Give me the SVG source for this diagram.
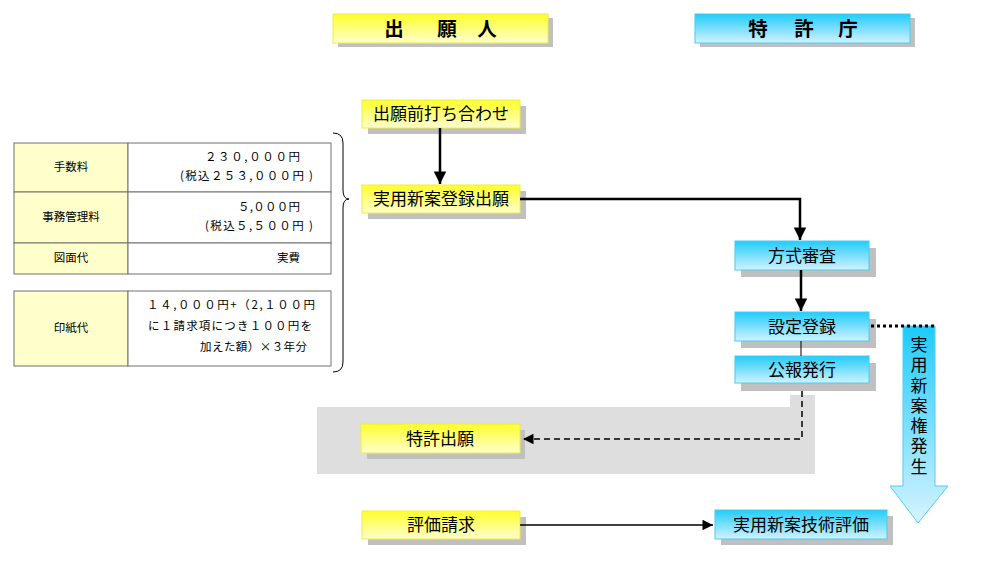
<svg xmlns="http://www.w3.org/2000/svg" width="1000" height="565" viewBox="0 0 1000 565">
<defs>
<linearGradient id="gy" x1="0" y1="0" x2="0" y2="1"><stop offset="0" stop-color="#ffff2a"/><stop offset="1" stop-color="#ffffd0"/></linearGradient>
<linearGradient id="gb" x1="0" y1="0" x2="0" y2="1"><stop offset="0" stop-color="#22ccfa"/><stop offset="1" stop-color="#d2f2ff"/></linearGradient>
<linearGradient id="ga" x1="0" y1="0" x2="0" y2="1"><stop offset="0" stop-color="#1ecbfa"/><stop offset="1" stop-color="#d6f3ff"/></linearGradient>
<marker id="ah" viewBox="0 0 10 10" refX="10" refY="5" markerWidth="5.5" markerHeight="5" markerUnits="strokeWidth" orient="auto"><path d="M0,0 L10,5 L0,10 Z" fill="#000"/></marker>
<marker id="ah2" viewBox="0 0 10 10" refX="10" refY="5" markerWidth="9" markerHeight="7" markerUnits="strokeWidth" orient="auto"><path d="M0,0 L10,5 L0,10 Z" fill="#000"/></marker>
</defs>
<style>
text{font-family:"Noto Sans CJK JP","Noto Sans CJK SC",sans-serif;fill:#000}
.sh{fill:#c0c0c0}
.y{fill:url(#gy);stroke:#eeee44;stroke-width:1}
.b{fill:url(#gb);stroke:#44ccf5;stroke-width:1}
.t{font-size:17px;text-anchor:middle}
.h{font-size:19.5px;font-weight:bold;text-anchor:middle}
.c{font-size:11.5px}
.tl{fill:#ffffcc;stroke:#707070;stroke-width:1}
.tr{fill:#fff;stroke:#707070;stroke-width:1}
.ln{stroke:#000;fill:none}
</style>
<rect width="1000" height="565" fill="#fff"/>
<g id="band"><path d="M790,395 H815 V474 H317 V407 H790 Z" fill="#dedede"/></g>
<g id="header-applicant"><rect class="sh" x="338" y="18" width="215" height="29"/><rect class="y" x="333" y="14" width="215" height="29"/><text class="h" y="36"><tspan x="394">出</tspan><tspan x="447">願</tspan><tspan x="487">人</tspan></text></g>
<g id="header-office"><rect class="sh" x="700" y="18" width="215" height="29"/><rect class="b" x="695" y="14" width="215" height="29"/><text class="h" y="36"><tspan x="758">特</tspan><tspan x="804">許</tspan><tspan x="848">庁</tspan></text></g>
<g id="table1">
<rect class="tl" x="14" y="143" width="114" height="49"/><rect class="tr" x="128" y="143" width="203" height="49"/>
<rect class="tl" x="14" y="192" width="114" height="51"/><rect class="tr" x="128" y="192" width="203" height="51"/>
<rect class="tl" x="14" y="243" width="114" height="31"/><rect class="tr" x="128" y="243" width="203" height="31"/>
<text class="c" x="71" y="171" text-anchor="middle">手数料</text>
<text class="c" x="205" y="161" textLength="95" lengthAdjust="spacing">２３０,０００円</text>
<text class="c" x="180" y="180" textLength="133" lengthAdjust="spacing">(税込２５３,０００円 )</text>
<text class="c" x="71" y="221" text-anchor="middle">事務管理料</text>
<text class="c" x="238" y="211" textLength="62" lengthAdjust="spacing">５,０００円</text>
<text class="c" x="205" y="230" textLength="108" lengthAdjust="spacing">(税込５,５００円 )</text>
<text class="c" x="71" y="262" text-anchor="middle">図面代</text>
<text class="c" x="300" y="262" text-anchor="end">実費</text>
</g>
<g id="table2">
<rect class="tl" x="14" y="291" width="114" height="75"/><rect class="tr" x="128" y="291" width="203" height="75"/>
<text class="c" x="71" y="332" text-anchor="middle">印紙代</text>
<text class="c" x="147" y="309" textLength="168" lengthAdjust="spacing">１４,０００円+（2,１００円</text>
<text class="c" x="148" y="330" textLength="164" lengthAdjust="spacing">に１請求項につき１００円を</text>
<text class="c" x="200" y="351" textLength="107" lengthAdjust="spacing">加えた額）×３年分</text>
</g>
<g id="brace"><path class="ln" stroke-width="1" d="M333,133 Q343,133 343,143 V190 Q343,199 349,199 Q343,199 343,208 V362 Q343,372 333,372"/></g>
<g id="n-pre"><rect class="sh" x="368" y="106" width="158" height="28"/><rect class="y" x="362" y="100" width="158" height="28"/><text class="t" x="441" y="120">出願前打ち合わせ</text></g>
<g id="n-apply"><rect class="sh" x="368" y="191" width="158" height="28"/><rect class="y" x="362" y="185" width="158" height="28"/><text class="t" x="441" y="205">実用新案登録出願</text></g>
<g id="n-formal"><rect class="sh" x="741" y="248" width="135" height="29"/><rect class="b" x="735" y="241" width="134" height="29"/><text class="t" x="802" y="262">方式審査</text></g>
<g id="n-reg"><rect class="sh" x="741" y="319" width="135" height="29"/><rect class="b" x="735" y="312" width="134" height="29"/><text class="t" x="802" y="333">設定登録</text></g>
<g id="n-pub"><rect class="sh" x="741" y="363" width="135" height="28"/><rect class="b" x="735" y="356" width="134" height="27"/><text class="t" x="802" y="376">公報発行</text></g>
<g id="n-patent"><rect class="sh" x="367" y="430" width="158" height="29"/><rect class="y" x="361" y="424" width="159" height="29"/><text class="t" x="440" y="445">特許出願</text></g>
<g id="n-req"><rect class="sh" x="368" y="517" width="158" height="28"/><rect class="y" x="362" y="511" width="158" height="28"/><text class="t" x="441" y="531">評価請求</text></g>
<g id="n-eval"><rect class="sh" x="721" y="516" width="172" height="29"/><rect class="b" x="715" y="510" width="172" height="29"/><text class="t" x="801" y="531">実用新案技術評価</text></g>
<g id="n-right"><path d="M903,326 H935 V486 H948 L918,523 L890,486 H903 Z" fill="url(#ga)" stroke="#55ccf5" stroke-width="1"/>
<text x="919" y="336" font-size="17" writing-mode="vertical-rl" style="writing-mode:vertical-rl;letter-spacing:3.3px">実用新案権発生</text></g>
<g id="connectors">
<path class="ln" stroke-width="2.5" d="M440,128 V184" marker-end="url(#ah)"/>
<path class="ln" stroke-width="2.5" d="M520,199 H800 V240" marker-end="url(#ah)"/>
<path class="ln" stroke-width="2.5" d="M801,270 V311" marker-end="url(#ah)"/>
<path class="ln" stroke-width="1" d="M801,341 V356"/>
<path class="ln" stroke-width="1.5" stroke-dasharray="6,4" d="M802,391 V439 H523" marker-end="url(#ah2)"/>
<path class="ln" stroke-width="3" stroke-dasharray="3,3" d="M871,326 H935"/>
<path class="ln" stroke-width="1.5" d="M520,525 H713" marker-end="url(#ah2)"/>
</g>
</svg>
